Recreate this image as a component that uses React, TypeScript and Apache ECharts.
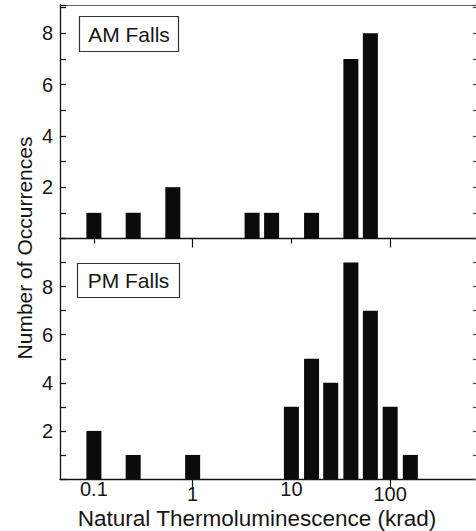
import React, { useEffect, useRef } from "react";
import * as echarts from "echarts";

// Bin centres (krad) and counts
const amCenters = [0.1, 0.25, 0.63, 4.0, 6.3, 16, 40, 63];
const amCounts = [1, 1, 2, 1, 1, 1, 7, 8];
const pmCenters = [0.1, 0.25, 1.0, 10, 16, 25, 40, 63, 100, 160];
const pmCounts = [2, 1, 1, 3, 5, 4, 9, 7, 3, 1];
const xTickValues = [-1, 0, 1, 2]; // log10 of 0.1, 1, 10, 100
const xTickLabels = ["0.1", "1", "10", "100"];
const yLabelValues = [2, 4, 6, 8];

const FONT = "'Liberation Sans', Arial, Helvetica, sans-serif";
const X_MIN = -1.343;
const X_MAX = 2.869;
const HALF = 0.076;
const INK = "#0b0b0b";

function toData(c: number[], v: number[]) {
  return c.map((x, i) => [Math.log10(x), v[i]]);
}

const renderBar = (params: any, api: any) => {
  const c = api.value(0);
  const v = api.value(1);
  const p0 = api.coord([c - HALF, 0]);
  const p1 = api.coord([c + HALF, v]);
  return {
    type: "rect",
    shape: { x: p0[0], y: p1[1], width: p1[0] - p0[0], height: p0[1] - p1[1] },
    style: { fill: INK },
  };
};

export default function App() {
  const ref = useRef<HTMLDivElement>(null);
  useEffect(() => {
    if (!ref.current) return;
    const chart = echarts.init(ref.current, undefined, { renderer: "svg" });
    const baseX = {
      type: "value",
      min: X_MIN,
      max: X_MAX,
      splitLine: { show: false },
    };
    const yLabel = {
      fontSize: 20,
      fontFamily: FONT,
      color: "#161616",
      margin: 7,
      customValues: yLabelValues,
      formatter: (v: number) => String(v),
    };
    const yLeftLine = { show: true, onZero: false, lineStyle: { color: "#111", width: 1.3 } };
    const option: any = {
      animation: false,
      backgroundColor: "#ffffff",
      grid: [
        { left: 60, top: 5, width: 417, height: 233.5 },
        { left: 60, top: 238.5, width: 417, height: 240.5 },
      ],
      xAxis: [
        {
          ...baseX,
          gridIndex: 0,
          position: "bottom",
          axisLine: { show: true, onZero: false, lineStyle: { color: "#111", width: 1.3 } },
          axisTick: { show: true, inside: false, length: 9, customValues: [0, 2], lineStyle: { color: "#111", width: 1.2 } },
          axisLabel: { show: false },
        },
        {
          ...baseX,
          gridIndex: 0,
          position: "bottom",
          axisLine: { show: false, onZero: false },
          axisTick: { show: true, inside: false, length: 5, customValues: [-1, 1], lineStyle: { color: "#111", width: 1.2 } },
          axisLabel: { show: false },
        },
        {
          ...baseX,
          gridIndex: 0,
          position: "top",
          axisLine: { show: true, onZero: false, lineStyle: { color: "#666", width: 1.2 } },
          axisTick: { show: false },
          axisLabel: { show: false },
        },
        {
          ...baseX,
          gridIndex: 1,
          position: "bottom",
          axisLine: { show: true, onZero: false, lineStyle: { color: "#111", width: 1.3 } },
          axisTick: { show: true, inside: false, length: 10, customValues: [0, 2], lineStyle: { color: "#111", width: 1.2 } },
          axisLabel: {
            show: true,
            margin: 0,
            customValues: xTickValues,
            formatter: (v: number) => {
              const i = xTickValues.findIndex((t) => Math.abs(t - v) < 1e-6);
              if (i < 0) return "";
              return i % 2 === 0 ? `{hi|${xTickLabels[i]}}` : `{lo|${xTickLabels[i]}}`;
            },
            rich: {
              hi: { fontSize: 20, fontFamily: FONT, color: "#161616", lineHeight: 20 },
              lo: { fontSize: 20, fontFamily: FONT, color: "#161616", lineHeight: 20, padding: [10, 0, 0, 0] },
            },
          },
        },
      ],
      yAxis: [
        {
          type: "value",
          gridIndex: 0,
          min: 0,
          max: 9.1,
          interval: 1,
          position: "left",
          splitLine: { show: false },
          axisLine: yLeftLine,
          axisTick: { show: true, inside: true, length: 6, lineStyle: { color: "#111", width: 1.2 } },
          axisLabel: yLabel,
        },
        {
          type: "value",
          gridIndex: 0,
          min: 0,
          max: 9.1,
          interval: 1,
          position: "right",
          splitLine: { show: false },
          axisLine: { show: false, onZero: false },
          axisTick: { show: true, inside: true, length: 3, lineStyle: { color: "#444", width: 1.2 } },
          axisLabel: { show: false },
        },
        {
          type: "value",
          gridIndex: 1,
          min: 0,
          max: 10,
          interval: 1,
          position: "left",
          splitLine: { show: false },
          axisLine: yLeftLine,
          axisTick: { show: true, inside: true, length: 6, lineStyle: { color: "#111", width: 1.2 } },
          axisLabel: yLabel,
        },
        {
          type: "value",
          gridIndex: 1,
          min: 0,
          max: 10,
          interval: 1,
          position: "right",
          splitLine: { show: false },
          axisLine: { show: false, onZero: false },
          axisTick: { show: true, inside: true, length: 3, lineStyle: { color: "#444", width: 1.2 } },
          axisLabel: { show: false },
        },
      ],
      series: [
        {
          type: "custom",
          name: "AM Falls",
          xAxisIndex: 0,
          yAxisIndex: 0,
          renderItem: renderBar,
          encode: { x: 0, y: 1 },
          data: toData(amCenters, amCounts),
        },
        {
          type: "custom",
          name: "PM Falls",
          xAxisIndex: 3,
          yAxisIndex: 2,
          renderItem: renderBar,
          encode: { x: 0, y: 1 },
          data: toData(pmCenters, pmCounts),
        },
      ],
      graphic: [
        {
          type: "rect",
          shape: { x: 79.5, y: 16.5, width: 99, height: 35 },
          style: { fill: "#fff", stroke: "#333", lineWidth: 1.2 },
          z: 10,
        },
        {
          type: "text",
          x: 129,
          y: 34,
          z: 11,
          style: { text: "AM Falls", font: `21px ${FONT}`, fill: "#161616", align: "center", verticalAlign: "middle", textAlign: "center", textVerticalAlign: "middle" },
        },
        {
          type: "rect",
          shape: { x: 77.5, y: 263.5, width: 102, height: 34 },
          style: { fill: "#fff", stroke: "#333", lineWidth: 1.2 },
          z: 10,
        },
        {
          type: "text",
          x: 128.5,
          y: 280.5,
          z: 11,
          style: { text: "PM Falls", font: `21px ${FONT}`, fill: "#161616", align: "center", verticalAlign: "middle", textAlign: "center", textVerticalAlign: "middle" },
        },
        {
          type: "text",
          x: 24,
          y: 248,
          rotation: Math.PI / 2,
          style: { text: "Number of Occurrences", font: `21px ${FONT}`, fill: "#161616", align: "center", verticalAlign: "middle", textAlign: "center", textVerticalAlign: "middle" },
        },
        {
          type: "text",
          x: 257,
          y: 518,
          style: { text: "Natural Thermoluminescence (krad)", font: `22.5px ${FONT}`, fill: "#161616", align: "center", verticalAlign: "middle", textAlign: "center", textVerticalAlign: "middle" },
        },
      ],
    };
    chart.setOption(option);
    return () => chart.dispose();
  }, []);
  return (
    <div
      ref={ref}
      style={{ position: "fixed", left: 0, top: 0, width: 476, height: 531, background: "#fff" }}
    />
  );
}
